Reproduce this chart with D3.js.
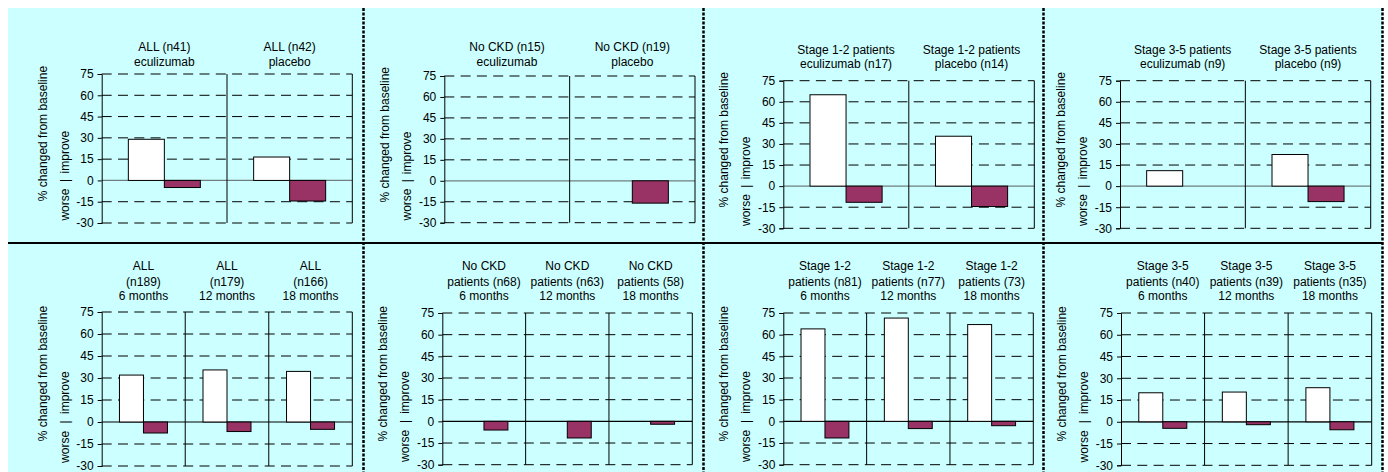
<!DOCTYPE html>
<html>
<head>
<meta charset="utf-8">
<script src="https://cdn.jsdelivr.net/npm/d3@7"></script>
<style>
  body { margin: 0; background: #fff; }
  svg { display: block; font-family: "Liberation Sans", Arial, sans-serif; }
</style>
</head>
<body>
<svg id="chart" width="1388" height="472"></svg>
<script>
// ---- data ----
var yTicks = [-30, -15, 0, 15, 30, 45, 60, 75];
var seriesKeys = ['improve', 'worse'];

var topLabels = [
  [['ALL (n41)', 'eculizumab'], ['ALL (n42)', 'placebo']],
  [['No CKD (n15)', 'eculizumab'], ['No CKD (n19)', 'placebo']],
  [['Stage 1-2 patients', 'eculizumab (n17)'], ['Stage 1-2 patients', 'placebo (n14)']],
  [['Stage 3-5 patients', 'eculizumab (n9)'], ['Stage 3-5 patients', 'placebo (n9)']]
];
var topImprove = [[29, 16.5], [null, null], [65, 35.5], [11, 22.5]];
var topWorse = [[-5, -14.5], [null, -16], [-11.5, -14.5], [0, -11]];

var bottomLabels = [
  [['ALL', '(n189)', '6 months'], ['ALL', '(n179)', '12 months'], ['ALL', '(n166)', '18 months']],
  [['No CKD', 'patients (n68)', '6 months'], ['No CKD', 'patients (n63)', '12 months'], ['No CKD', 'patients (58)', '18 months']],
  [['Stage 1-2', 'patients (n81)', '6 months'], ['Stage 1-2', 'patients (n77)', '12 months'], ['Stage 1-2', 'patients (73)', '18 months']],
  [['Stage 3-5', 'patients (n40)', '6 months'], ['Stage 3-5', 'patients (n39)', '12 months'], ['Stage 3-5', 'patients (n35)', '18 months']]
];
var bottomImprove = [[32, 35.5, 34.5], [null, null, null], [64, 71.5, 67], [20, 20.5, 23.5]];
var bottomWorse = [[-7.5, -6.5, -5], [-6, -11.5, -2], [-11.5, -5, -3], [-4.5, -2, -5.5]];

// ---- layout (plot boxes) ----
var topBoxes = [
  { x0: 101.7, x1: 352.3, y0: 74, y1: 223 },
  { x0: 444.3, x1: 695, y0: 76, y1: 222.7 },
  { x0: 783.3, x1: 1034.3, y0: 80.7, y1: 228.3 },
  { x0: 1120, x1: 1370.7, y0: 80.7, y1: 228.3 }
];
var topTitleY = [[47, 62], [47, 62], [50, 64], [50, 64]];
var bottomBoxes = [
  { x0: 101.7, x1: 352.3, y0: 312, y1: 466 },
  { x0: 442.3, x1: 692.3, y0: 313, y1: 464.7 },
  { x0: 783.3, x1: 1033.3, y0: 313, y1: 464.7 },
  { x0: 1121, x1: 1371.7, y0: 313, y1: 465.3 }
];
var bottomTitleY = [266.3, 281.5, 296];
var colSeparators = [363.5, 703.5, 1043.5, 1382.5];

var colors = { improve: '#ffffff', worse: '#993366' };
var fontSize = 12;

var svg = d3.select('#chart');

// background
svg.append('rect')
  .attr('x', 8).attr('y', 8)
  .attr('width', 1375).attr('height', 464)
  .attr('fill', '#ccffff');

function drawPanel(box, improve, worse, titles, titleYs, zeroColor) {
  var g = svg.append('g');
  var y = d3.scaleLinear().domain([-30, 75]).range([box.y1, box.y0]);
  var groups = d3.range(improve.length);
  var outer = d3.scaleBand().domain(groups).range([box.x0, box.x1]).padding(0);
  var inner = d3.scaleBand().domain(seriesKeys)
    .range([0, outer.bandwidth()]).paddingInner(0).paddingOuter(0.74);

  // dashed gridlines
  g.selectAll('line.grid')
    .data(yTicks.filter(function(t) { return t !== 0; }))
    .enter().append('line')
    .attr('class', 'grid')
    .attr('x1', box.x0).attr('x2', box.x1)
    .attr('y1', function(d) { return y(d); })
    .attr('y2', function(d) { return y(d); })
    .attr('stroke', '#000')
    .attr('stroke-width', 1)
    .attr('stroke-dasharray', '10,6.3');

  // zero line
  g.append('line')
    .attr('x1', box.x0).attr('x2', box.x1)
    .attr('y1', y(0)).attr('y2', y(0))
    .attr('stroke', zeroColor)
    .attr('stroke-width', 1.2);

  // group dividers + right border
  var edges = groups.slice(1).map(function(i) { return outer(i); }).concat([box.x1]);
  g.selectAll('line.div')
    .data(edges)
    .enter().append('line')
    .attr('class', 'div')
    .attr('x1', function(d) { return d; }).attr('x2', function(d) { return d; })
    .attr('y1', y(75)).attr('y2', y(-30))
    .attr('stroke', '#000')
    .attr('stroke-width', 1);

  // bars
  var bars = [];
  groups.forEach(function(i) {
    bars.push({ g: i, key: 'improve', v: improve[i] });
    bars.push({ g: i, key: 'worse', v: worse[i] });
  });
  g.selectAll('rect.bar')
    .data(bars.filter(function(d) { return d.v !== null; }))
    .enter().append('rect')
    .attr('class', 'bar')
    .attr('x', function(d) { return outer(d.g) + inner(d.key); })
    .attr('width', inner.bandwidth())
    .attr('y', function(d) { return y(Math.max(d.v, 0)); })
    .attr('height', function(d) { return Math.abs(y(d.v) - y(0)); })
    .attr('fill', function(d) { return colors[d.key]; })
    .attr('stroke', '#000')
    .attr('stroke-width', 1);

  // y axis
  var axis = g.append('g')
    .attr('transform', 'translate(' + box.x0 + ',0)')
    .call(d3.axisLeft(y).tickValues(yTicks).tickSize(4).tickPadding(4)
      .tickFormat(function(d) { return String(d); }));
  axis.select('.domain').attr('stroke', '#000');
  axis.selectAll('.tick line').attr('stroke', '#000');
  axis.selectAll('text')
    .attr('fill', '#000')
    .style('font-size', fontSize + 'px')
    .style('font-family', '"Liberation Sans", Arial, sans-serif');

  // y titles
  g.append('text')
    .attr('transform', 'translate(' + (box.x0 - 59) + ',' + y(33) + ') rotate(-90)')
    .attr('text-anchor', 'middle')
    .attr('dominant-baseline', 'central')
    .style('font-size', fontSize + 'px')
    .text('% changed from baseline');
  [['improve', 20], ['|', 0], ['worse', -17]].forEach(function(p) {
    g.append('text')
      .attr('transform', 'translate(' + (box.x0 - 37) + ',' + y(p[1]) + ') rotate(-90)')
      .attr('text-anchor', 'middle')
      .attr('dominant-baseline', 'central')
      .style('font-size', fontSize + 'px')
      .text(p[0]);
  });

  // group titles
  groups.forEach(function(i) {
    titles[i].forEach(function(line, k) {
      g.append('text')
        .attr('x', outer(i) + outer.bandwidth() / 2)
        .attr('y', titleYs[k])
        .attr('text-anchor', 'middle')
        .attr('dominant-baseline', 'central')
        .style('font-size', fontSize + 'px')
        .text(line);
    });
  });
}

topBoxes.forEach(function(box, c) {
  drawPanel(box, topImprove[c], topWorse[c], topLabels[c], topTitleY[c], '#6f7f7f');
});
bottomBoxes.forEach(function(box, c) {
  drawPanel(box, bottomImprove[c], bottomWorse[c], bottomLabels[c], bottomTitleY, '#000');
});

// row separator
svg.append('line')
  .attr('x1', 8).attr('x2', 1383)
  .attr('y1', 243).attr('y2', 243)
  .attr('stroke', '#000')
  .attr('stroke-width', 2);

// column separators
svg.selectAll('line.sep')
  .data(colSeparators)
  .enter().append('line')
  .attr('class', 'sep')
  .attr('x1', function(d) { return d; }).attr('x2', function(d) { return d; })
  .attr('y1', 8).attr('y2', 472)
  .attr('stroke', '#000')
  .attr('stroke-width', 2.5)
  .attr('stroke-dasharray', '3,1.5');
</script>
</body>
</html>
